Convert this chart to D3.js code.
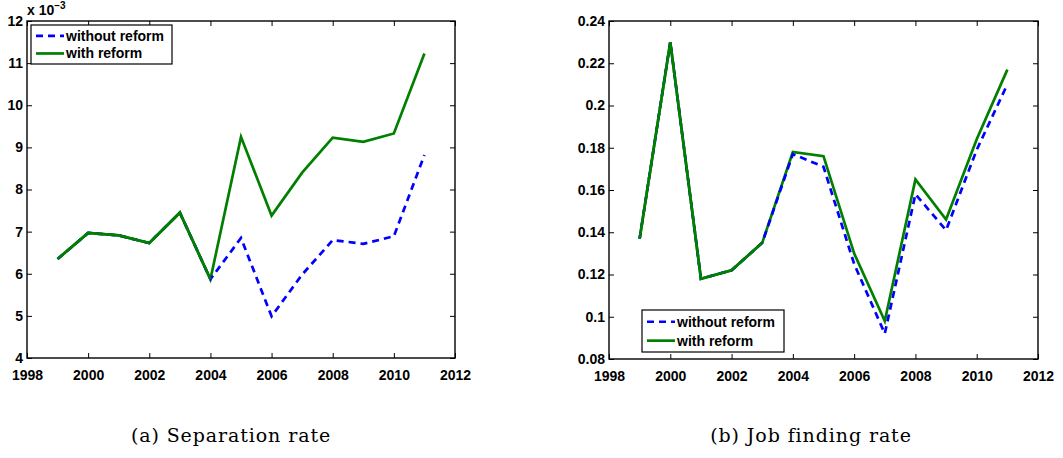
<!DOCTYPE html>
<html><head><meta charset="utf-8">
<script src="https://cdn.jsdelivr.net/npm/d3@7"></script>
<style>body{margin:0;background:#fff}svg{display:block}</style>
</head><body>
<svg id="c" width="1063" height="458"></svg>
<script>
const years = [1999,2000,2001,2002,2003,2004,2005,2006,2007,2008,2009,2010,2011];
// Separation rate (x 10^-3)
const sepWithout = [6.35,6.97,6.91,6.73,7.45,5.87,6.85,4.99,5.98,6.80,6.71,6.89,8.82];
const sepWith    = [6.35,6.97,6.91,6.73,7.45,5.87,9.25,7.38,8.40,9.23,9.13,9.33,11.23];
// Job finding rate
const jobWithout = [0.137,0.230,0.118,0.122,0.135,0.177,0.171,0.125,0.092,0.158,0.141,0.179,0.210];
const jobWith    = [0.137,0.230,0.118,0.122,0.135,0.178,0.176,0.130,0.098,0.165,0.146,0.184,0.217];
const xTicks = [1998,2000,2002,2004,2006,2008,2010,2012];
const sepTicks = [4,5,6,7,8,9,10,11,12];
const jobTicks = [0.08,0.1,0.12,0.14,0.16,0.18,0.2,0.22,0.24];
const seriesNames = ["without reform","with reform"];
const captions = ["(a)  Separation rate","(b)  Job finding rate"];

const svg = d3.select("#c");
const font = "'Liberation Sans', Arial, Helvetica, sans-serif";

function styleText(sel, size){
  sel.style("font-family",font).style("font-weight","bold").style("font-size",size+"px").style("fill","#000");
}

function panel(cfg){
  const {x0,x1,y0,y1,yDomain,yTicks,fmt,s1,s2,legend,caption,capX} = cfg;
  const x = d3.scaleLinear().domain([1998,2012]).range([x0,x1]);
  const y = d3.scaleLinear().domain(yDomain).range([y1,y0]);
  const g = svg.append("g");
  const tl = 5;
  const axB = d3.axisBottom(x).tickValues(xTicks).tickSizeInner(-tl).tickSizeOuter(0).tickPadding(12).tickFormat(d3.format("d"));
  const axT = d3.axisTop(x).tickValues(xTicks).tickSizeInner(-tl).tickSizeOuter(0).tickFormat("");
  const axL = d3.axisLeft(y).tickValues(yTicks).tickSizeInner(-tl).tickSizeOuter(0).tickPadding(4).tickFormat(fmt);
  const axR = d3.axisRight(y).tickValues(yTicks).tickSizeInner(-tl).tickSizeOuter(0).tickFormat("");
  [[axB,`translate(0,${y1})`],[axT,`translate(0,${y0})`],[axL,`translate(${x0},0)`],[axR,`translate(${x1},0)`]].forEach(([a,t])=>{
    const ag = g.append("g").attr("transform",t).call(a);
    ag.select(".domain").remove();
    ag.selectAll("line").attr("stroke","#000").attr("stroke-width",1);
    styleText(ag.selectAll("text"),14);
  });
  g.append("rect").attr("x",x0).attr("y",y0).attr("width",x1-x0).attr("height",y1-y0)
    .attr("fill","none").attr("stroke","#000").attr("stroke-width",1.4);
  const line = d3.line().x((d,i)=>x(years[i])).y(d=>y(d));
  g.append("path").datum(s2).attr("d",line).attr("fill","none").attr("stroke","#007f00").attr("stroke-width",2.7);
  g.append("path").datum(s1).attr("d",line).attr("fill","none").attr("stroke","#0000ff").attr("stroke-width",2.7).attr("stroke-dasharray","7,5");
  // green drawn on top where both series coincide
  g.append("path").datum(s2.map((v,i)=>Math.abs(v-s1[i])<1e-9?v:null)).attr("d",d3.line().defined(d=>d!==null).x((d,i)=>x(years[i])).y(d=>y(d)))
    .attr("fill","none").attr("stroke","#007f00").attr("stroke-width",2.7);
  // legend
  const L = legend;
  const lg = g.append("g");
  lg.append("rect").attr("x",L.x).attr("y",L.y).attr("width",L.w).attr("height",L.h).attr("fill","#fff").attr("stroke","#000").attr("stroke-width",1.2);
  [["#0000ff","7,5"],["#007f00",null]].forEach((st,i)=>{
    const yy = L.y + L.h*0.28 + i*L.h*0.45;
    const ln = lg.append("line").attr("x1",L.x+5).attr("x2",L.x+33).attr("y1",yy).attr("y2",yy).attr("stroke",st[0]).attr("stroke-width",2.7);
    if(st[1]) ln.attr("stroke-dasharray",st[1]);
    styleText(lg.append("text").attr("x",L.x+35).attr("y",yy+5).text(seriesNames[i]),14);
  });
  svg.append("text").attr("x",capX).attr("y",442).attr("text-anchor","middle").text(caption)
    .style("font-family","'DejaVu Serif', 'Liberation Serif', serif").style("font-size","19px").style("letter-spacing","0.9px").style("fill","#000");
}

panel({x0:27,x1:455,y0:21,y1:358,yDomain:[4,12],yTicks:sepTicks,fmt:d3.format("d"),
  s1:sepWithout,s2:sepWith,legend:{x:31,y:25,w:141,h:39},caption:captions[0],capX:231});
panel({x0:609,x1:1038,y0:21,y1:359,yDomain:[0.08,0.24],yTicks:jobTicks,fmt:d=>String(+d.toFixed(2)),
  s1:jobWithout,s2:jobWith,legend:{x:642,y:310,w:142,h:42},caption:captions[1],capX:811});

const mult = svg.append("text").attr("x",27).attr("y",15);
styleText(mult,14);
mult.text("x 10").append("tspan").attr("dy",-6).style("font-size","10px").text("−3");
</script>
</body></html>
